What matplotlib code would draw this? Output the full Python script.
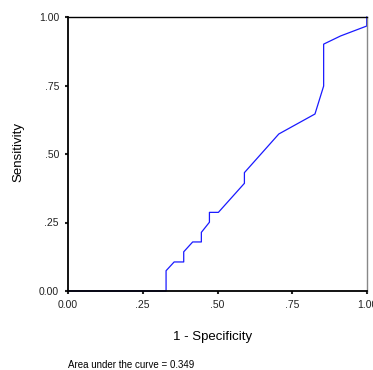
import numpy as np
import matplotlib.pyplot as plt

# ROC curve points
fpr = [0.0, 0.328, 0.328, 0.355, 0.387, 0.387, 0.417, 0.446, 0.446, 0.473, 0.473,
       0.503, 0.590, 0.590, 0.705, 0.826, 0.855, 0.855, 0.912, 0.999, 0.999]
tpr = [0.0, 0.0, 0.074, 0.106, 0.106, 0.143, 0.179, 0.179, 0.214, 0.251, 0.287,
       0.287, 0.393, 0.432, 0.573, 0.646, 0.748, 0.901, 0.931, 0.967, 1.0]
ticks = [0.0, 0.25, 0.5, 0.75, 1.0]
tick_labels = ["0.00", ".25", ".50", ".75", "1.00"]
auc_text = "Area under the curve = 0.349"

plt.rcParams['font.family'] = ['Liberation Sans', 'DejaVu Sans']

fig = plt.figure(figsize=(3.73, 3.70), dpi=100)
ax = fig.add_axes([68 / 373, 79 / 370, 299 / 373, 274 / 370])

ax.plot(fpr, tpr, color="#1a1aff", lw=0.9, clip_on=False)

ax.set_xlim(0, 1)
ax.set_ylim(0, 1)
ax.set_xticks(ticks)
ax.set_xticklabels(tick_labels)
ax.set_yticks(ticks)
ax.set_yticklabels(tick_labels)
ax.tick_params(direction="out", length=2.5, width=1.5, labelsize=7.5, pad=4, colors="#222222")

for s in ["left", "bottom"]:
    ax.spines[s].set_linewidth(1.3)
ax.spines["top"].set_linewidth(1.0)
ax.spines["right"].set_color("#888888")
ax.spines["right"].set_linewidth(1.0)

fig.text(213 / 373, 1 - 337 / 370, "1 - Specificity", ha="center", va="center", fontsize=9.5)
fig.text(18 / 373, 1 - 152 / 370, "Sensitivity", ha="center", va="center", rotation=90, fontsize=9.5)
fig.text(68 / 373, 1 - 365 / 370, auc_text, ha="left", va="center", fontsize=7)

fig.savefig("out.png", dpi=100)
